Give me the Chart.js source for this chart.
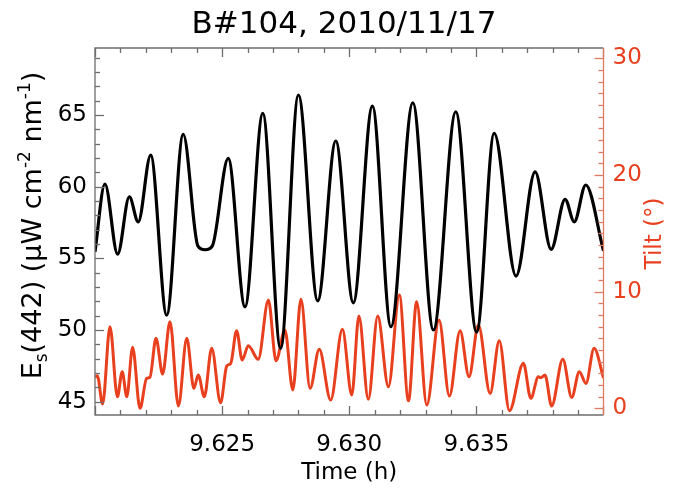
<!DOCTYPE html>
<html>
<head>
<meta charset="utf-8">
<script src="https://cdn.jsdelivr.net/npm/chart.js@4/dist/chart.umd.min.js"></script>
<style>
  html, body { margin: 0; padding: 0; background: #fff; }
  #wrap { width: 676px; height: 488px; }
</style>
</head>
<body>
<div id="wrap"><canvas id="c" width="676" height="488"></canvas></div>
<script>
// Downwelling irradiance Es(442) and buoy tilt, B#104, 2010/11/17
const esTime = [9.62000, 9.62039, 9.62089, 9.62135, 9.62170, 9.62219, 9.62282, 9.62347,
  9.62405, 9.62433, 9.62461, 9.62524, 9.62590, 9.62660, 9.62730, 9.62800, 9.62876, 9.62947,
  9.63016, 9.63091, 9.63164, 9.63250, 9.63331, 9.63419, 9.63501, 9.63570, 9.63656,
  9.63731, 9.63794, 9.63849, 9.63885, 9.63930, 9.64000];
const esValues = [55.46, 60.19, 55.30, 59.30, 57.55, 62.21, 51.04, 63.65,
  55.85, 55.60, 55.85, 61.98, 51.62, 65.12, 48.72, 66.40, 52.04, 63.19,
  51.90, 65.63, 50.23, 65.86, 50.00, 65.23, 49.85, 63.72, 53.76,
  61.04, 55.63, 59.12, 57.55, 60.12, 55.53];

const tiltTime = [9.62000, 9.62009, 9.62030, 9.62059, 9.62088, 9.62107, 9.62125, 9.62148,
  9.62177, 9.62203, 9.62216, 9.62240, 9.62266, 9.62295, 9.62328, 9.62361, 9.62389,
  9.62406, 9.62430, 9.62459, 9.62494, 9.62518, 9.62534, 9.62557, 9.62579, 9.62603,
  9.62642, 9.62682, 9.62712, 9.62747, 9.62778, 9.62810, 9.62846, 9.62882, 9.62927,
  9.62973, 9.63010, 9.63038, 9.63075, 9.63112, 9.63154, 9.63197, 9.63233, 9.63265,
  9.63305, 9.63353, 9.63394, 9.63436, 9.63471, 9.63508, 9.63554, 9.63590, 9.63630,
  9.63685, 9.63714, 9.63744, 9.63753, 9.63770, 9.63796, 9.63840, 9.63875, 9.63905,
  9.63931, 9.63963, 9.64000];
const tiltValues = [2.66, 2.80, 0.37, 6.99, 0.99, 3.14, 0.99, 5.23,
  0.00, 2.57, 2.66, 6.00, 2.94, 7.42, 0.20, 6.00, 1.71,
  2.85, 0.99, 5.14, 0.48, 3.62, 3.86, 6.65, 4.14, 5.37,
  4.20, 9.28, 4.08, 6.71, 1.57, 9.34, 1.71, 5.06, 0.71,
  6.77, 1.14, 7.91, 0.77, 7.91, 1.85, 9.71, 0.65, 9.14,
  0.28, 7.57, 1.05, 6.65, 2.71, 7.14, 1.28, 5.79, -0.20,
  3.86, 0.86, 2.71, 2.62, 2.85, 0.20, 4.20, 0.94, 3.14,
  2.14, 5.14, 2.60];

const timeTicks = [9.625, 9.630, 9.635];
const esTicks = [45, 50, 55, 60, 65];
const tiltTicks = [0, 10, 20, 30];

const timeRange = [9.620, 9.640];
const esRange = [44.07, 69.68];
const tiltRange = [-0.57, 30.88];

const FONT = '"DejaVu Sans", sans-serif';
const RED = '#e8401e';
const RED_AXIS = '#e27a62';
const GREY = '#6e6e6e';

// Inward tick marks and the box around the plot, placed through the scales
const frame = {
  id: 'frame',
  afterDatasetsDraw(chart) {
    const { ctx, chartArea: a, scales } = chart;
    const x = scales.x, y = scales.y, y1 = scales.y1;
    ctx.save();
    ctx.lineWidth = 1.3;
    ctx.lineCap = 'butt';

    // time axis, bottom and top
    ctx.strokeStyle = GREY;
    const nx = Math.round((x.max - x.min) / 0.001);
    for (let i = 0; i <= nx; i++) {
      const v = x.min + i * 0.001;
      const major = Math.abs(v / 0.005 - Math.round(v / 0.005)) < 1e-6;
      const len = major ? 9 : 5;
      const px = Math.round(x.getPixelForValue(v)) + 0.5;
      ctx.beginPath();
      ctx.moveTo(px, a.bottom); ctx.lineTo(px, a.bottom - len);
      ctx.moveTo(px, a.top); ctx.lineTo(px, a.top + len);
      ctx.stroke();
    }
    // left axis
    for (let v = Math.ceil(y.min); v <= Math.floor(y.max); v++) {
      const len = v % 5 === 0 ? 9 : 5;
      const py = Math.round(y.getPixelForValue(v)) + 0.5;
      ctx.beginPath(); ctx.moveTo(a.left, py); ctx.lineTo(a.left + len, py); ctx.stroke();
    }
    ctx.beginPath();
    ctx.moveTo(a.right, a.top); ctx.lineTo(a.left, a.top);
    ctx.lineTo(a.left, a.bottom); ctx.lineTo(a.right, a.bottom);
    ctx.stroke();

    // right axis
    ctx.strokeStyle = RED_AXIS;
    for (let v = Math.ceil(y1.min); v <= Math.floor(y1.max); v++) {
      const len = v % 10 === 0 ? 9 : 5;
      const py = Math.round(y1.getPixelForValue(v)) + 0.5;
      ctx.beginPath(); ctx.moveTo(a.right, py); ctx.lineTo(a.right - len, py); ctx.stroke();
    }
    ctx.beginPath(); ctx.moveTo(a.right, a.top); ctx.lineTo(a.right, a.bottom); ctx.stroke();
    ctx.restore();
  },
  afterDraw(chart) {
    const { ctx, chartArea: a } = chart;
    ctx.save();
    // main title
    ctx.fillStyle = '#000';
    ctx.font = '31px ' + FONT;
    ctx.textAlign = 'center';
    ctx.textBaseline = 'alphabetic';
    ctx.fillText('B#104, 2010/11/17', 344, 33);

    // left axis title with subscript and superscripts
    const size = 27, small = 17;
    const parts = [
      { t: 'E', s: size, dy: 0 },
      { t: 's', s: small, dy: 6 },
      { t: '(442) (\u03bcW cm', s: size, dy: 0 },
      { t: '-2', s: small, dy: -11 },
      { t: ' nm', s: size, dy: 0 },
      { t: '-1', s: small, dy: -11 },
      { t: ')', s: size, dy: 0 }
    ];
    let total = 0;
    parts.forEach(p => { ctx.font = p.s + 'px ' + FONT; p.w = ctx.measureText(p.t).width; total += p.w; });
    ctx.translate(31, (a.top + a.bottom) / 2 - 6);
    ctx.rotate(-Math.PI / 2);
    ctx.textAlign = 'left';
    let cx = -total / 2;
    const base = 0.365 * size;
    parts.forEach(p => {
      ctx.font = p.s + 'px ' + FONT;
      ctx.fillText(p.t, cx, base + p.dy);
      cx += p.w;
    });
    ctx.restore();

    // right axis title
    ctx.save();
    ctx.fillStyle = RED;
    ctx.font = '23px ' + FONT;
    ctx.translate(655, (a.top + a.bottom) / 2 + 2);
    ctx.rotate(-Math.PI / 2);
    ctx.textAlign = 'center';
    ctx.textBaseline = 'middle';
    ctx.fillText('Tilt (\u00b0)', 0, 0);
    ctx.restore();
  }
};

const tickFont = { family: FONT, size: 23 };

new Chart(document.getElementById('c'), {
  type: 'line',
  data: {
    datasets: [
      {
        label: 'Es(442)',
        data: esTime.map((t, i) => ({ x: t, y: esValues[i] })),
        yAxisID: 'y',
        borderColor: '#000',
        borderWidth: 3.2,
        pointRadius: 0,
        cubicInterpolationMode: 'monotone',
        fill: false
      },
      {
        label: 'Tilt',
        data: tiltTime.map((t, i) => ({ x: t, y: tiltValues[i] })),
        yAxisID: 'y1',
        borderColor: RED,
        borderWidth: 3,
        pointRadius: 0,
        cubicInterpolationMode: 'monotone',
        fill: false
      }
    ]
  },
  options: {
    responsive: false,
    animation: false,
    devicePixelRatio: 1,
    layout: { padding: { top: 48, left: 0, right: 0, bottom: 0 } },
    plugins: { legend: { display: false }, tooltip: { enabled: false }, title: { display: false } },
    scales: {
      x: {
        type: 'linear',
        position: 'bottom',
        min: timeRange[0], max: timeRange[1],
        afterBuildTicks: s => { s.ticks = timeTicks.map(v => ({ value: v })); },
        afterFit: s => { s.height = 73; },
        grid: { display: false, drawTicks: false },
        border: { display: false },
        ticks: {
          padding: 16, font: tickFont, color: '#000', maxRotation: 0, autoSkip: false,
          callback: v => Number(v).toFixed(3)
        },
        title: { display: true, text: 'Time (h)', font: tickFont, color: '#000', padding: { top: 0, bottom: 1 } }
      },
      y: {
        type: 'linear',
        position: 'left',
        min: esRange[0], max: esRange[1],
        afterBuildTicks: s => { s.ticks = esTicks.map(v => ({ value: v })); },
        afterFit: s => { s.width = 95; },
        grid: { display: false, drawTicks: false },
        border: { display: false },
        ticks: { padding: 8, font: tickFont, color: '#000', autoSkip: false }
      },
      y1: {
        type: 'linear',
        position: 'right',
        min: tiltRange[0], max: tiltRange[1],
        afterBuildTicks: s => { s.ticks = tiltTicks.map(v => ({ value: v })); },
        afterFit: s => { s.width = 72.5; },
        grid: { display: false, drawTicks: false },
        border: { display: false },
        ticks: { padding: 9, font: tickFont, color: RED, autoSkip: false }
      }
    }
  },
  plugins: [frame]
});
</script>
</body>
</html>
